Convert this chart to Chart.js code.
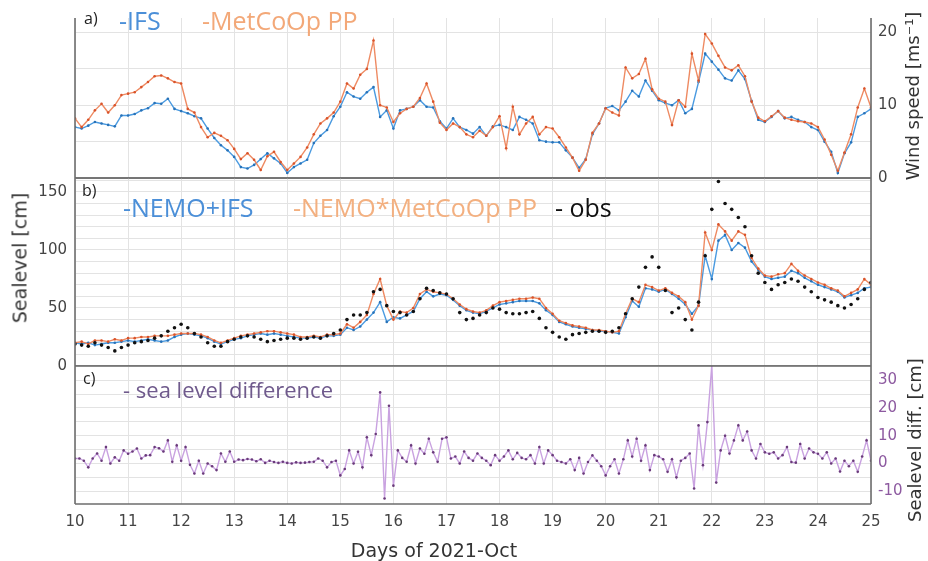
<!DOCTYPE html>
<html>
<head>
<meta charset="utf-8">
<script src="https://cdn.jsdelivr.net/npm/chart.js@4.4.1/dist/chart.umd.min.js"></script>
<style>
    html, body { margin: 0; padding: 0; background: #fff; }
    #wrap { position: relative; width: 928px; height: 561px; overflow: hidden; }
    #wrap canvas { position: absolute; left: 0; top: 0; }
    .lbl { position: absolute; white-space: nowrap; line-height: 1; font-family: "Open Sans", sans-serif; }
    .rot { position: absolute; white-space: nowrap; line-height: 1; color: #333;
           font-family: "DejaVu Sans", sans-serif; transform: translate(-50%, -50%) rotate(-90deg); }
</style>
</head>
<body>
<div id="wrap">
    <canvas id="windChart" width="928" height="561"></canvas>
    <canvas id="seaChart" width="928" height="561"></canvas>
    <canvas id="diffChart" width="928" height="561"></canvas>

    <div class="lbl" style="left:84px;top:10px;font-size:16px;color:#222">a)</div>
    <div class="lbl" style="left:119px;top:8px;font-size:25px;color:#4b8fd8">-IFS</div>
    <div class="lbl" style="left:202px;top:8px;font-size:25px;color:#f3a878">-MetCoOp PP</div>

    <div class="lbl" style="left:82px;top:182px;font-size:16px;color:#222">b)</div>
    <div class="lbl" style="left:123px;top:195px;font-size:25px;color:#4b8fd8">-NEMO+IFS</div>
    <div class="lbl" style="left:293px;top:195px;font-size:25px;color:#f3b080">-NEMO*MetCoOp PP</div>
    <div class="lbl" style="left:555px;top:195px;font-size:25px;color:#111">- obs</div>

    <div class="lbl" style="left:83px;top:370px;font-size:16px;color:#222">c)</div>
    <div class="lbl" style="left:123px;top:378px;font-size:22px;color:#6f5a8c">- sea level difference</div>

    <div class="rot" style="left:913px;top:96px;font-size:18px">Wind speed [ms⁻¹]</div>
    <div class="rot" style="left:20px;top:258px;font-size:19px">Sealevel [cm]</div>
    <div class="rot" style="left:915px;top:440px;font-size:18px">Sealevel diff. [cm]</div>
    <div class="lbl" style="left:434px;top:550px;font-size:19px;color:#333;font-family:'DejaVu Sans',sans-serif;transform:translate(-50%,-50%)">Days of 2021-Oct</div>
</div>

<script>
// ===== DATA (3-hourly for wind / sea level, 2-hourly for the difference) =====
const dayStart = 10;
const dayEnd = 25;
const dayTicks = [10, 11, 12, 13, 14, 15, 16, 17, 18, 19, 20, 21, 22, 23, 24, 25];

// a) wind speed [m/s]
const windIFS = [
    7.0, 6.8, 7.2, 7.7, 7.5, 7.3, 7.1, 8.6,
    8.6, 8.8, 9.3, 9.6, 10.3, 10.2, 10.9, 9.5,
    9.2, 8.9, 8.5, 8.2, 6.8, 5.5, 4.5, 3.8,
    2.9, 1.5, 1.3, 1.8, 2.6, 3.4, 2.7, 2.0,
    0.7, 1.5, 2.0, 2.5, 4.8, 5.8, 6.6, 8.5,
    9.8, 11.8, 11.2, 10.9, 11.8, 12.5, 8.4, 9.3,
    6.8, 9.3, 9.5, 9.8, 10.7, 9.8, 9.7, 7.8,
    6.8, 8.2, 7.0, 6.6, 6.1, 7.0, 5.8, 7.1,
    7.3, 7.0, 6.6, 8.4, 8.0, 7.5, 5.2, 5.0,
    4.9, 4.9, 3.8, 2.8, 1.4, 2.6, 6.0, 7.5,
    9.6, 9.9, 9.3, 10.5, 12.0, 11.2, 13.4, 12.0,
    10.7, 10.3, 10.0, 10.7, 8.9, 9.5, 13.2, 17.1,
    16.0, 14.9, 13.7, 13.4, 14.8, 13.6, 10.6, 8.0,
    7.7, 8.4, 9.2, 8.2, 8.4, 8.0, 7.7, 7.0,
    6.6, 5.0, 3.6, 0.7, 3.4, 4.9, 8.4, 8.9,
    9.5
];
const windMetCoOp = [
    8.2, 7.0, 8.0, 9.3, 10.2, 9.0, 10.0, 11.4,
    11.6, 11.8, 12.5, 13.2, 14.0, 14.1, 13.7, 13.2,
    13.0, 9.5, 9.0, 7.0, 5.6, 6.2, 5.8, 5.2,
    4.0, 2.6, 3.4, 2.5, 1.1, 3.0, 3.6, 2.2,
    1.1, 2.0, 2.9, 4.2, 6.0, 7.5, 8.2, 9.0,
    10.5, 13.0, 12.3, 14.2, 15.0, 18.9, 10.0, 9.7,
    7.7, 8.9, 9.5, 9.8, 11.0, 13.0, 10.5, 7.6,
    6.6, 7.5, 7.0, 6.0, 5.6, 6.5, 5.8, 7.0,
    8.5, 4.1, 9.8, 6.0, 7.5, 8.4, 6.0, 7.0,
    6.8, 5.6, 4.2, 2.8, 1.0, 2.5, 6.2, 7.5,
    9.6, 9.0, 8.6, 15.2, 13.7, 14.3, 16.4, 12.2,
    10.9, 10.5, 7.3, 10.7, 9.8, 17.1, 13.4, 19.8,
    18.5, 16.8, 15.2, 14.8, 15.5, 14.0, 10.5, 8.3,
    7.8, 8.5, 9.2, 8.3, 8.0, 7.8, 7.7, 7.5,
    7.0, 5.3, 3.2, 1.0, 3.5, 6.0, 9.7, 12.3,
    9.7
];

// b) sea level [cm]
const seaNemoIFS = [
    20, 19, 20, 18, 19, 20, 20, 21,
    22, 21, 22, 23, 22, 21, 22, 25,
    27, 28, 27, 26, 24, 21, 19, 21,
    23, 24, 26, 27, 28, 27, 28, 27,
    26, 25, 24, 24, 25, 24, 26, 26,
    27, 33, 31, 34, 40, 46, 55, 38,
    42, 41, 44, 47, 58, 64, 60, 62,
    61, 57, 52, 48, 46, 45, 47, 50,
    53, 54, 55, 56, 56, 56, 54, 48,
    44, 38, 36, 34, 33, 32, 31, 30,
    30, 29, 28, 42, 56, 51, 67, 66,
    64, 66, 62, 58, 53, 45, 52, 95,
    75, 108, 113, 100, 106, 102, 90, 83,
    77, 75, 76, 77, 82, 80, 76, 73,
    70, 68, 66, 64, 59, 61, 63, 67,
    68
];
const seaNemoMetCoOp = [
    20, 21, 19, 22, 22, 21, 23, 22,
    24, 24, 25, 25, 26, 26, 26, 27,
    28, 28, 28, 27, 25, 22, 20, 22,
    24, 26, 27, 28, 29, 30, 30, 29,
    28, 27, 25, 25, 26, 25, 27, 27,
    28, 36, 33, 38, 44, 62, 75, 52,
    40, 47, 46, 50, 62, 66, 64, 63,
    62, 58, 53, 49, 47, 46, 48, 52,
    55, 56, 57, 58, 58, 59, 58, 50,
    45, 39, 37, 35, 34, 33, 31, 31,
    30, 29, 30, 45, 58, 55, 70, 68,
    65, 67, 63, 60, 55, 40, 52, 115,
    100, 122, 116, 108, 116, 113, 93, 84,
    78, 77, 79, 80, 88, 82, 78, 75,
    72, 70, 67, 65, 60, 63, 66, 75,
    70
];
const seaObs = [
    19, 18, 17, 20, 18, 16, 13, 16,
    18, 20, 21, 22, 24, 26, 30, 33,
    36, 33, 28, 25, 20, 17, 17, 21,
    23, 25, 26, 25, 23, 21, 22, 23,
    24, 24, 23, 24, 25, 24, 26, 28,
    31, 40, 44, 44, 46, 64, 66, 52,
    47, 46, 44, 47, 58, 67, 65, 63,
    62, 58, 46, 40, 41, 44, 46, 50,
    49, 46, 45, 45, 46, 47, 41, 33,
    29, 25, 23, 27, 28, 29, 30, 30,
    29, 30, 33, 45, 58, 68, 85, 94,
    85, 65, 46, 50, 40, 31, 55, 95,
    135, 159, 140, 135, 128, 120, 95, 80,
    72, 66, 70, 72, 75, 73, 68, 64,
    59, 57, 55, 52, 50, 53, 58, 66,
    72
];

// c) sea level difference [cm]
const seaDiff = [
    1.8, 1.8, 1.0, -1.4, 1.8, 3.6, 1.0, 5.9, 0.0, 2.2, 1.0, 4.7,
    3.5, 4.3, 5.4, 1.8, 2.9, 3.0, 5.9, 5.5, 4.3, 8.3, 0.6, 6.5,
    1.0, 5.9, -0.5, -3.6, 1.0, -3.6, 0.0, -1.0, -2.4, 3.6, 0.6, 4.3,
    0.6, 1.4, 1.2, 1.6, 1.4, 0.8, 1.5, 0.2, 1.0, 0.5, 0.2, 0.6,
    0.2, 0.0, 0.4, 0.2, 0.3, 0.5, 0.6, 1.8, 1.0, -1.4, 0.5, 1.0,
    -4.3, -2.0, 4.7, 0.0, 4.2, -1.4, 9.4, 3.0, 10.6, 25.6, -12.6, 20.8,
    -8.0, 4.7, 2.0, 0.6, 6.5, 0.0, 5.4, 3.5, 8.9, 4.0, 0.6, 8.9,
    9.4, 1.8, 2.5, 0.0, 4.3, 2.0, 1.0, 3.6, 2.0, 1.0, -0.6, 3.0,
    1.0, 2.5, 4.7, 1.5, 3.8, 2.0, 1.5, 3.0, 0.0, 5.9, 0.0, 4.7,
    3.0, 1.0, 0.5, 0.0, 1.5, -2.4, 2.0, -3.6, 0.5, 2.9, 1.0, -1.0,
    -4.3, -1.0, 1.5, -3.6, 1.5, 8.3, 2.5, 8.9, 1.0, 6.5, -2.4, 3.0,
    2.5, 1.5, -3.0, 1.5, -5.0, 1.0, 2.0, 3.6, -9.0, 13.7, -0.6, 14.9,
    35.4, -6.9, 4.7, 10.0, 3.6, 8.3, 13.7, 8.3, 11.5, 4.7, 1.8, 7.0,
    4.0, 3.5, 4.0, 1.8, 3.0, 5.9, 0.5, 0.3, 7.0, 1.8, 5.4, 4.0,
    3.5, 1.8, 4.0, 0.0, 1.8, -2.9, 1.0, -1.0, 1.0, -3.0, 2.5, 8.3,
    1.0
];

// ===== HELPERS =====
const GRID = "#e3e3e3";
const FRAME = "#6e6e6e";
const TICK_FONT = { family: "DejaVu Sans", size: 15 };
const AXIS_W = 50;   // fixed width for the y axis boxes
const AXIS_H = 30;   // fixed height for the bottom x axis box

// values -> {x, y} with x in days, given samples per day
function toPoints(values, perDay) {
    return values.map((v, i) => ({ x: dayStart + i / perDay, y: v }));
}

// panel border lines on chosen sides of the chart area
const framePlugin = {
    id: "frame",
    afterDraw(chart, args, opts) {
        const { ctx, chartArea: a } = chart;
        ctx.save();
        ctx.strokeStyle = FRAME;
        ctx.lineWidth = 1.6;
        ctx.beginPath();
        if (opts.top) { ctx.moveTo(a.left, a.top); ctx.lineTo(a.right, a.top); }
        if (opts.bottom) { ctx.moveTo(a.left, a.bottom); ctx.lineTo(a.right, a.bottom); }
        if (opts.left) { ctx.moveTo(a.left, a.top); ctx.lineTo(a.left, a.bottom); }
        if (opts.right) { ctx.moveTo(a.right, a.top); ctx.lineTo(a.right, a.bottom); }
        ctx.stroke();
        ctx.restore();
    },
};

function xScale(showLabels) {
    return {
        type: "linear",
        min: dayStart,
        max: dayEnd,
        afterBuildTicks: (s) => { s.ticks = dayTicks.map((v) => ({ value: v })); },
        afterFit: (s) => { s.height = showLabels ? AXIS_H : 0; },
        ticks: {
            display: showLabels,
            color: "#444",
            font: TICK_FONT,
            padding: 9,
            maxRotation: 0,
            autoSkip: false,
        },
        grid: { color: GRID, drawTicks: false },
        border: { display: false },
    };
}

function yScale(position, min, max, step, labelEvery, color) {
    return {
        type: "linear",
        position,
        min,
        max,
        afterFit: (s) => { s.width = AXIS_W; },
        ticks: {
            stepSize: step,
            includeBounds: false,
            autoSkip: false,
            color,
            font: TICK_FONT,
            padding: position === "left" ? 8 : 7,
            callback: (v) => (Math.abs(v % labelEvery) < 1e-9 ? v : ""),
        },
        grid: { color: GRID, drawTicks: false },
        border: { display: false },
    };
}

function lineSet(points, lineColor, dotColor, showLine) {
    return {
        data: points,
        showLine,
        borderColor: lineColor,
        borderWidth: 1.4,
        pointRadius: showLine ? 1.3 : 1.8,
        pointBackgroundColor: dotColor,
        pointBorderWidth: 0,
        tension: 0,
    };
}

function makePanel(id, padding, yOpts, datasets, showX, frame) {
    return new Chart(document.getElementById(id), {
        type: "line",
        data: { datasets },
        options: {
            responsive: false,
            animation: false,
            devicePixelRatio: 1,
            layout: { padding },
            scales: { x: xScale(showX), y: yOpts },
            plugins: { legend: { display: false }, tooltip: { enabled: false }, frame },
        },
        plugins: [framePlugin],
    });
}

// ===== CHARTS =====
// chart area of every panel: x 75..871
makePanel(
    "windChart",
    { left: 75, right: 57 - AXIS_W, top: 18, bottom: 383 },
    yScale("right", 0, 22, 5, 10, "#444"),
    [
        lineSet(toPoints(windMetCoOp, 8), "#ee8a62", "#d9532a", true),
        lineSet(toPoints(windIFS, 8), "#4a9ae0", "#2872b8", true),
    ],
    false,
    { left: true, right: true, bottom: true }
);

makePanel(
    "seaChart",
    { left: 75 - AXIS_W, right: 57, top: 178, bottom: 195 },
    yScale("left", 0, 162, 10, 50, "#444"),
    [
        lineSet(toPoints(seaObs, 8), "#111", "#111", false),
        lineSet(toPoints(seaNemoMetCoOp, 8), "#ee8a62", "#d9532a", true),
        lineSet(toPoints(seaNemoIFS, 8), "#4a9ae0", "#2872b8", true),
    ],
    false,
    { left: true, right: true, top: true, bottom: true }
);

makePanel(
    "diffChart",
    { left: 75, right: 57 - AXIS_W, top: 366, bottom: 57 - AXIS_H },
    yScale("right", -14.6, 35.1, 5, 10, "#8d5aa0"),
    [
        lineSet(toPoints(seaDiff, 12), "#c9a2e0", "#6a3b7a", true),
    ],
    true,
    { left: true, right: true, top: true, bottom: true }
);
</script>
</body>
</html>
